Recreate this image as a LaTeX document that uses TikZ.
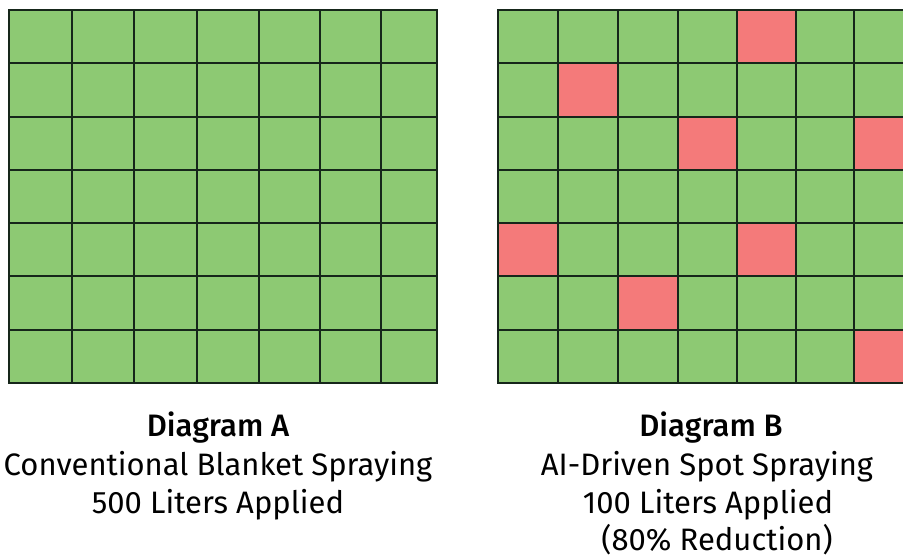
\documentclass[tikz,border=0pt]{standalone}
\usepackage{fontspec}
\setmainfont{Fira Sans}[BoldFont={Fira Sans Medium}]
\definecolor{cellgreen}{HTML}{8DC973}
\definecolor{cellred}{HTML}{F47A7A}
\definecolor{gridline}{HTML}{16261A}
\tikzset{
  gridstroke/.style={draw=gridline, line width=2pt},
  titletext/.style={font=\fontsize{31}{36}\selectfont\bfseries, anchor=base, inner sep=0pt},
  bodytext/.style={font=\fontsize{31}{36}\selectfont, anchor=base, inner sep=0pt}
}
\begin{document}
\begin{tikzpicture}[x=1pt,y=-1pt]
\useasboundingbox (0,0) rectangle (903,558);
\begin{scope}
\clip (0,0) rectangle (903,558);
% Grid A
\def\ya{{10,63,117,170,223,276,330,383}}
\foreach \xl/\xr in {9/72,72/134,134/197,197/259,259/320,320/381,381/437}
  \foreach \r in {0,...,6}{
    \pgfmathsetmacro{\yt}{\ya[\r]}
    \pgfmathsetmacro{\yb}{\ya[\r+1]}
    \filldraw[fill=cellgreen, gridstroke] (\xl,\yt) rectangle (\xr,\yb);
  }
% Grid B
\foreach \c/\xl/\xr in {0/498/558,1/558/618,2/618/678,3/678/737,4/737/796,5/796/854,6/854/914}
  \foreach \r in {0,...,6}{
    \pgfmathsetmacro{\yt}{\ya[\r]}
    \pgfmathsetmacro{\yb}{\ya[\r+1]}
    \filldraw[fill=cellgreen, gridstroke] (\xl,\yt) rectangle (\xr,\yb);
  }
% red cells in B (column/row)
\foreach \c/\r in {4/0,1/1,3/2,6/2,0/4,4/4,2/5,6/6}{
  \pgfmathsetmacro{\xl}{{498,558,618,678,737,796,854}[\c]}
  \pgfmathsetmacro{\xr}{{558,618,678,737,796,854,914}[\c]}
  \pgfmathsetmacro{\yt}{\ya[\r]}
  \pgfmathsetmacro{\yb}{\ya[\r+1]}
  \filldraw[fill=cellred, gridstroke] (\xl,\yt) rectangle (\xr,\yb);
}
\end{scope}
% Captions
\node[titletext] (ta) at (218,436) {Diagram A};
\node[bodytext] (a1) at (218,475) {Conventional Blanket Spraying};
\node[bodytext] (a2) at (218,513) {500 Liters Applied};
\node[titletext] (tb) at (711,436) {Diagram B};
\node[bodytext] (b1) at (707,475) {AI-Driven Spot Spraying};
\node[bodytext] (b2) at (708,513) {100 Liters Applied};
\node[bodytext] (b3) at (717,550) {(80\% Reduction)};
\end{tikzpicture}
\end{document}
